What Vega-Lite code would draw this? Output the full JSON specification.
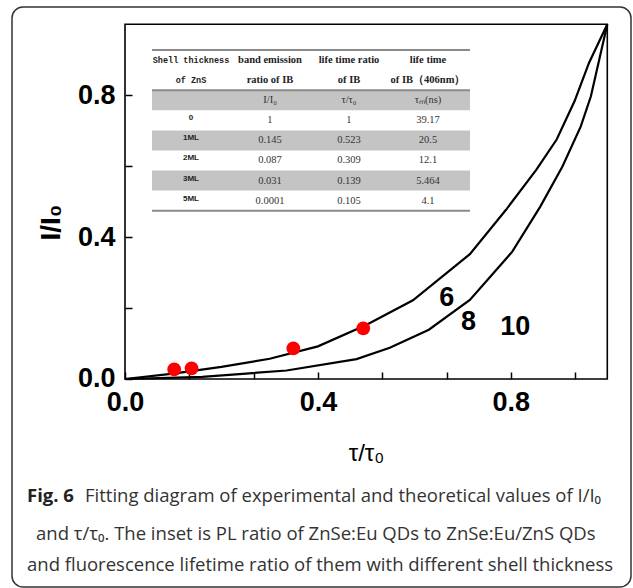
{
  "$schema": "https://vega.github.io/schema/vega-lite/v6.json",
  "width": 619,
  "height": 580,
  "autosize": "none",
  "padding": {"left": 12, "top": 7, "right": 2, "bottom": 1},
  "background": "white",
  "config": {
    "view": {"stroke": "#333333", "strokeWidth": 1.5, "cornerRadius": 11, "fill": "white"}
  },
  "datasets": {
    "curves": [
      {"curve": "6", "tau": 0.0, "ratio": 0.0},
      {"curve": "6", "tau": 0.1, "ratio": 0.015},
      {"curve": "6", "tau": 0.2, "ratio": 0.034},
      {"curve": "6", "tau": 0.3, "ratio": 0.057},
      {"curve": "6", "tau": 0.4, "ratio": 0.092},
      {"curve": "6", "tau": 0.5, "ratio": 0.152},
      {"curve": "6", "tau": 0.597, "ratio": 0.222},
      {"curve": "6", "tau": 0.715, "ratio": 0.352},
      {"curve": "6", "tau": 0.79, "ratio": 0.477},
      {"curve": "6", "tau": 0.853, "ratio": 0.59},
      {"curve": "6", "tau": 0.895, "ratio": 0.675},
      {"curve": "6", "tau": 0.932, "ratio": 0.783},
      {"curve": "6", "tau": 0.962, "ratio": 0.891},
      {"curve": "6", "tau": 1.0, "ratio": 1.0},
      {"curve": "8", "tau": 0.0, "ratio": 0.0},
      {"curve": "8", "tau": 0.16, "ratio": 0.006},
      {"curve": "8", "tau": 0.335, "ratio": 0.024},
      {"curve": "8", "tau": 0.48, "ratio": 0.056},
      {"curve": "8", "tau": 0.549, "ratio": 0.088},
      {"curve": "8", "tau": 0.63, "ratio": 0.139},
      {"curve": "8", "tau": 0.715, "ratio": 0.223},
      {"curve": "8", "tau": 0.803, "ratio": 0.359},
      {"curve": "8", "tau": 0.861, "ratio": 0.486},
      {"curve": "8", "tau": 0.907, "ratio": 0.599},
      {"curve": "8", "tau": 0.945, "ratio": 0.712},
      {"curve": "8", "tau": 0.966, "ratio": 0.797},
      {"curve": "8", "tau": 1.0, "ratio": 1.0}
    ],
    "points": [
      {"tau": 0.102, "ratio": 0.027},
      {"tau": 0.138, "ratio": 0.030},
      {"tau": 0.349, "ratio": 0.0865},
      {"tau": 0.494, "ratio": 0.143}
    ],
    "labels": [
      {"label": "6", "tau": 0.667, "ratio": 0.229},
      {"label": "8", "tau": 0.712, "ratio": 0.160},
      {"label": "10", "tau": 0.809, "ratio": 0.148}
    ],
    "table": [
      {"k": 0, "col": 0, "kind": "mono", "text": "Shell thickness"},
      {"k": 0, "col": 1, "kind": "head", "text": "band emission"},
      {"k": 0, "col": 2, "kind": "head", "text": "life time ratio"},
      {"k": 0, "col": 3, "kind": "head", "text": "life time"},
      {"k": 1, "col": 0, "kind": "mono", "text": "of ZnS"},
      {"k": 1, "col": 1, "kind": "head", "text": "ratio of  IB"},
      {"k": 1, "col": 2, "kind": "head", "text": "of IB"},
      {"k": 1, "col": 3, "kind": "head", "text": "of IB（406nm）"},
      {"k": 2, "col": 1, "kind": "val", "text": "I/I₀"},
      {"k": 2, "col": 2, "kind": "val", "text": "τ/τ₀"},
      {"k": 2, "col": 3, "kind": "val", "text": "τₘ(ns)"},
      {"k": 3, "col": 0, "kind": "rowlab", "text": "0"},
      {"k": 3, "col": 1, "kind": "val", "text": "1"},
      {"k": 3, "col": 2, "kind": "val", "text": "1"},
      {"k": 3, "col": 3, "kind": "val", "text": "39.17"},
      {"k": 4, "col": 0, "kind": "rowlab", "text": "1ML"},
      {"k": 4, "col": 1, "kind": "val", "text": "0.145"},
      {"k": 4, "col": 2, "kind": "val", "text": "0.523"},
      {"k": 4, "col": 3, "kind": "val", "text": "20.5"},
      {"k": 5, "col": 0, "kind": "rowlab", "text": "2ML"},
      {"k": 5, "col": 1, "kind": "val", "text": "0.087"},
      {"k": 5, "col": 2, "kind": "val", "text": "0.309"},
      {"k": 5, "col": 3, "kind": "val", "text": "12.1"},
      {"k": 6, "col": 0, "kind": "rowlab", "text": "3ML"},
      {"k": 6, "col": 1, "kind": "val", "text": "0.031"},
      {"k": 6, "col": 2, "kind": "val", "text": "0.139"},
      {"k": 6, "col": 3, "kind": "val", "text": "5.464"},
      {"k": 7, "col": 0, "kind": "rowlab", "text": "5ML"},
      {"k": 7, "col": 1, "kind": "val", "text": "0.0001"},
      {"k": 7, "col": 2, "kind": "val", "text": "0.105"},
      {"k": 7, "col": 3, "kind": "val", "text": "4.1"}
    ],
    "bands": [{"k": 2}, {"k": 4}, {"k": 6}],
    "tlines": [{"k": -0.5}, {"k": 1.5}, {"k": 7.5}],
    "caption": [
      {"line": 0, "part": "bold", "text": "Fig. 6"},
      {"line": 0, "part": "rest", "text": "Fitting diagram of experimental and theoretical values of I/I₀"},
      {"line": 1, "part": "mid", "text": "and τ/τ₀. The inset is PL ratio of ZnSe:Eu QDs to ZnSe:Eu/ZnS QDs"},
      {"line": 2, "part": "plain", "text": "and fluorescence lifetime ratio of them with different shell thickness"}
    ]
  },
  "layer": [
    {
      "layer": [
        {
          "data": {"values": [{}]},
          "mark": {"type": "rect", "fill": null, "stroke": "black", "strokeWidth": 1.6},
          "encoding": {
            "x": {
              "datum": 0, "type": "quantitative",
              "scale": {"domain": [-0.2343, 1.04914], "nice": false, "zero": false},
              "axis": {
                "orient": "bottom", "offset": -208, "domain": false, "grid": false,
                "values": [0, 0.13333, 0.26667, 0.4, 0.53333, 0.66667, 0.8, 0.93333],
                "labelExpr": "(datum.value == 0 || datum.value == 0.4 || datum.value == 0.8) ? format(datum.value, '.1f') : ''",
                "tickSize": -7, "tickColor": "black", "tickWidth": 1.5,
                "labelPadding": 17, "labelFont": "Arial", "labelFontWeight": "bold",
                "labelFontSize": 27, "labelColor": "black", "labelFlush": false, "labelOverlap": false,
                "title": "τ/τ₀", "titleFont": "Arial", "titleFontSize": 24, "titleFontWeight": "normal",
                "titleColor": "black", "titleX": 354, "titleY": 74, "titleAlign": "center", "titleBaseline": "middle"
              }
            },
            "x2": {"datum": 1},
            "y": {
              "datum": 0, "type": "quantitative",
              "scale": {"domain": [-0.58641, 1.04877], "nice": false, "zero": false},
              "axis": {
                "orient": "left", "offset": -113, "domain": false, "grid": false,
                "values": [0, 0.2, 0.4, 0.6, 0.8],
                "labelExpr": "(datum.value == 0 || datum.value == 0.4 || datum.value == 0.8) ? format(datum.value, '.1f') : ''",
                "tickSize": -7, "tickColor": "black", "tickWidth": 1.5,
                "labelPadding": 17, "labelFont": "Arial", "labelFontWeight": "bold",
                "labelFontSize": 27, "labelColor": "black", "labelFlush": false, "labelOverlap": false,
                "title": "I/I₀", "titleFont": "Arial", "titleFontSize": 28, "titleFontWeight": "bold",
                "titleColor": "black", "titleX": -74, "titleY": 215, "titleAngle": -90,
                "titleAlign": "center", "titleBaseline": "middle"
              }
            },
            "y2": {"datum": 1}
          }
        },
        {
          "data": {"name": "curves"},
          "mark": {"type": "line", "color": "black", "strokeWidth": 2.2},
          "encoding": {
            "x": {"field": "tau", "type": "quantitative"},
            "y": {"field": "ratio", "type": "quantitative"},
            "detail": {"field": "curve"}
          }
        },
        {
          "data": {"name": "points"},
          "mark": {"type": "point", "filled": true, "color": "#ff0000", "opacity": 1, "size": 190},
          "encoding": {
            "x": {"field": "tau", "type": "quantitative"},
            "y": {"field": "ratio", "type": "quantitative"}
          }
        },
        {
          "data": {"name": "labels"},
          "mark": {"type": "text", "font": "Arial", "fontWeight": "bold", "fontSize": 27, "color": "black", "baseline": "middle", "align": "center"},
          "encoding": {
            "x": {"field": "tau", "type": "quantitative"},
            "y": {"field": "ratio", "type": "quantitative"},
            "text": {"field": "label"}
          }
        }
      ]
    },
    {
      "layer": [
        {
          "data": {"name": "bands"},
          "mark": {"type": "tick", "orient": "horizontal", "color": "#c4c4c4", "opacity": 1, "thickness": 20, "size": 318},
          "encoding": {
            "x": {"datum": 1.519, "type": "quantitative", "scale": {"domain": [-2.26582, 5.56962], "nice": false, "zero": false}, "axis": null},
            "y": {"field": "k", "type": "quantitative", "scale": {"domain": [-2.6368, 26.219], "reverse": true, "nice": false, "zero": false}, "axis": null}
          }
        },
        {
          "data": {"name": "tlines"},
          "mark": {"type": "rule", "color": "#8a8a8a", "strokeWidth": 2},
          "encoding": {
            "x": {"datum": -0.4937, "type": "quantitative"},
            "x2": {"datum": 3.5316},
            "y": {"field": "k", "type": "quantitative"}
          }
        },
        {
          "data": {"name": "table"},
          "transform": [{"filter": "datum.kind == 'mono'"}],
          "mark": {"type": "text", "font": "Liberation Mono", "fontWeight": "bold", "fontSize": 8.5, "color": "#222222", "baseline": "middle", "align": "center"},
          "encoding": {
            "x": {"field": "col", "type": "quantitative"},
            "y": {"field": "k", "type": "quantitative"},
            "text": {"field": "text"}
          }
        },
        {
          "data": {"name": "table"},
          "transform": [{"filter": "datum.kind == 'head'"}],
          "mark": {"type": "text", "font": "Liberation Serif", "fontWeight": "bold", "fontSize": 10.5, "color": "#222222", "baseline": "middle", "align": "center"},
          "encoding": {
            "x": {"field": "col", "type": "quantitative"},
            "y": {"field": "k", "type": "quantitative"},
            "text": {"field": "text"}
          }
        },
        {
          "data": {"name": "table"},
          "transform": [{"filter": "datum.kind == 'val'"}],
          "mark": {"type": "text", "font": "Liberation Serif", "fontSize": 10.5, "color": "#333333", "baseline": "middle", "align": "center"},
          "encoding": {
            "x": {"field": "col", "type": "quantitative"},
            "y": {"field": "k", "type": "quantitative"},
            "text": {"field": "text"}
          }
        },
        {
          "data": {"name": "table"},
          "transform": [{"filter": "datum.kind == 'rowlab'"}],
          "mark": {"type": "text", "font": "Arial", "fontWeight": "bold", "fontSize": 8, "color": "#222222", "baseline": "middle", "align": "center", "dy": -2},
          "encoding": {
            "x": {"field": "col", "type": "quantitative"},
            "y": {"field": "k", "type": "quantitative"},
            "text": {"field": "text"}
          }
        }
      ]
    },
    {
      "layer": [
        {
          "data": {"name": "caption"},
          "transform": [{"filter": "datum.part == 'bold'"}],
          "mark": {"type": "text", "font": "Open Sans", "fontWeight": "bold", "fontSize": 18.5, "color": "#222222", "baseline": "alphabetic", "align": "left"},
          "encoding": {
            "x": {"datum": 0, "type": "quantitative", "scale": {"domain": [-15, 604], "nice": false, "zero": false}, "axis": null},
            "y": {"field": "line", "type": "quantitative", "scale": {"domain": [-14.3478, 2.46377], "reverse": true, "nice": false, "zero": false}, "axis": null},
            "text": {"field": "text"}
          }
        },
        {
          "data": {"name": "caption"},
          "transform": [{"filter": "datum.part == 'rest'"}],
          "mark": {"type": "text", "font": "Open Sans", "fontSize": 18.5, "color": "#333333", "baseline": "alphabetic", "align": "left", "dx": 58},
          "encoding": {
            "x": {"datum": 0, "type": "quantitative"},
            "y": {"field": "line", "type": "quantitative"},
            "text": {"field": "text"}
          }
        },
        {
          "data": {"name": "caption"},
          "transform": [{"filter": "datum.part == 'mid'"}],
          "mark": {"type": "text", "font": "Open Sans", "fontSize": 18.5, "color": "#333333", "baseline": "alphabetic", "align": "left", "dx": 9, "dy": 4},
          "encoding": {
            "x": {"datum": 0, "type": "quantitative"},
            "y": {"field": "line", "type": "quantitative"},
            "text": {"field": "text"}
          }
        },
        {
          "data": {"name": "caption"},
          "transform": [{"filter": "datum.part == 'plain'"}],
          "mark": {"type": "text", "font": "Open Sans", "fontSize": 18.5, "color": "#333333", "baseline": "alphabetic", "align": "left"},
          "encoding": {
            "x": {"datum": 0, "type": "quantitative"},
            "y": {"field": "line", "type": "quantitative"},
            "text": {"field": "text"}
          }
        }
      ]
    }
  ],
  "resolve": {
    "scale": {"x": "independent", "y": "independent"},
    "axis": {"x": "independent", "y": "independent"}
  }
}
